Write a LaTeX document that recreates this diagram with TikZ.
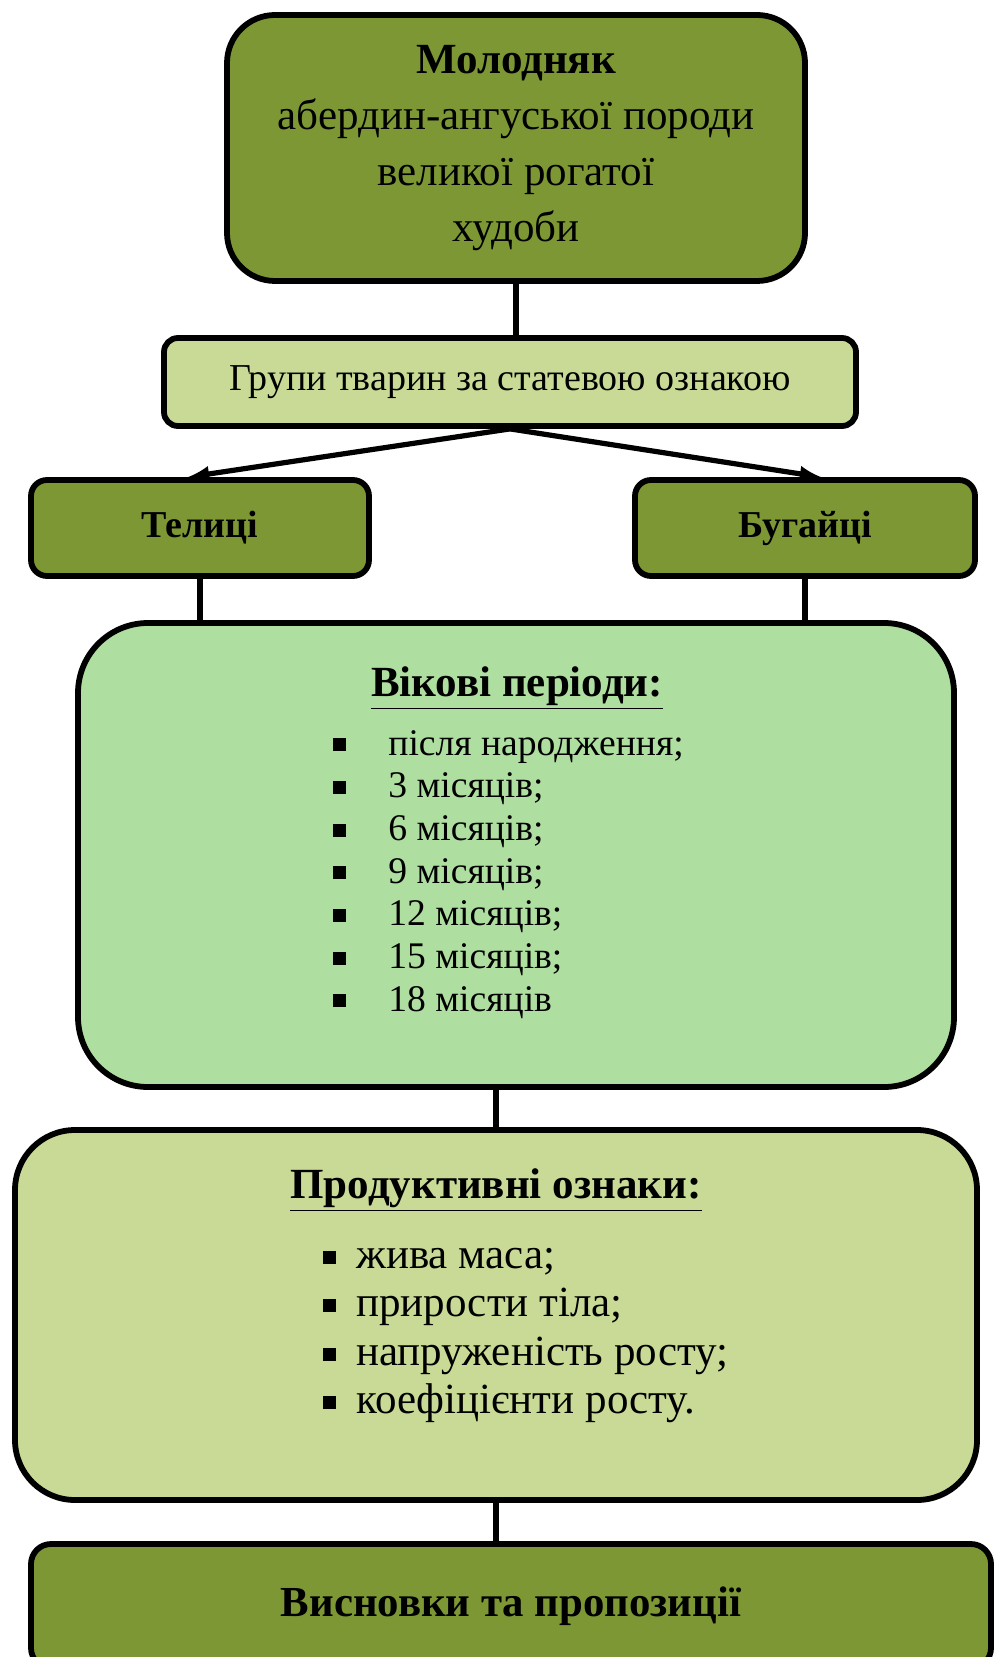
\documentclass[tikz,border=0pt]{standalone}
\usepackage{fontspec}
\setmainfont{Liberation Serif}
\usetikzlibrary{arrows,positioning}
\definecolor{olivedk}{HTML}{7D9735}
\definecolor{olivelt}{HTML}{C8DA96}
\definecolor{mintlt}{HTML}{AFDEA1}
\newcommand{\sqbul}{\rule[0.1em]{6.5pt}{6.5pt}}
\newcommand{\thickul}[1]{\underline{#1}}

\begin{document}
\begin{tikzpicture}[x=0.5pt, y=-0.5pt,
    box/.style={draw, line width=2.9pt, rectangle, align=center, inner sep=0pt},
    link/.style={line width=2.6pt},
  ]
%  \draw [help lines] (0,0) grid[step=50] (995,1657);
  \useasboundingbox (0,0) rectangle (995,1657);

  \node [box, fill=olivedk, rounded corners=24pt, minimum width=289pt, minimum height=133pt,
    font=\fontsize{21.5}{28}\selectfont] (young) at (516,148)
    {\rule{0pt}{12pt}\textbf{Молодняк}\\абердин-ангуської породи\\великої рогатої\\худоби};
  \node [box, fill=olivelt, rounded corners=7pt, minimum width=346pt, minimum height=44pt,
    font=\fontsize{19}{23}\selectfont] (sexgrp) at (510,382) {Групи тварин за статевою ознакою};
  \node [box, fill=olivedk, rounded corners=8pt, minimum width=169pt, minimum height=48pt,
    font=\fontsize{19}{23}\selectfont\bfseries] (heifers) at (200,528) {Телиці};
  \node [box, fill=olivedk, rounded corners=8pt, minimum width=170pt, minimum height=48pt,
    font=\fontsize{19}{23}\selectfont\bfseries] (bulls) at (805,528) {Бугайці};

  \node [box, fill=mintlt, rounded corners=35pt, minimum width=438pt, minimum height=232pt] (ages) at (516,855) {};
  \node [anchor=base, font=\fontsize{21.5}{26}\selectfont\bfseries] (agestitle) at (517,696) {\thickul{Вікові періоди:}};
  \foreach \t [count=\i from 0] in {після народження;, 3 місяців;, 6 місяців;, 9 місяців;,
      12 місяців;, 15 місяців;, 18 місяців}
    \node [anchor=base west, inner sep=0pt, font=\fontsize{18.8}{22}\selectfont] (age\i) at (333,755+42.7*\i)
      {\makebox[27.5pt][l]{\sqbul}\t};

  \node [box, fill=olivelt, rounded corners=30pt, minimum width=481pt, minimum height=185pt] (traits) at (496,1315) {};
  \node [anchor=base, font=\fontsize{21.5}{26}\selectfont\bfseries] (traitstitle) at (496,1198) {\thickul{Продуктивні ознаки:}};
  \foreach \t [count=\i from 0] in {жива маса;, прирости тіла;, напруженість росту;, коефіцієнти росту.}
    \node [anchor=base west, inner sep=0pt, font=\fontsize{21.5}{26}\selectfont] (trait\i) at (323,1268+48.5*\i)
      {\makebox[16.5pt][l]{\sqbul}\t};

  \node [box, fill=olivedk, rounded corners=10pt, minimum width=480pt, minimum height=62pt,
    font=\fontsize{21.4}{26}\selectfont\bfseries] (concl) at (511,1606) {Висновки та пропозиції};

  \draw [link] (young.south) -- (young.south |- sexgrp.north);
  \draw [link, -latex] (sexgrp.south) -- ([xshift=-6pt]heifers.north);
  \draw [link, -latex] (sexgrp.south) -- ([xshift=8pt]bulls.north);
  \draw [link] (heifers.south) -- (heifers.south |- ages.north);
  \draw [link] (bulls.south) -- (bulls.south |- ages.north);
  \draw [link] (traits.north) -- (traits.north |- ages.south);
  \draw [link] (traits.south) -- (traits.south |- concl.north);
\end{tikzpicture}
\end{document}
